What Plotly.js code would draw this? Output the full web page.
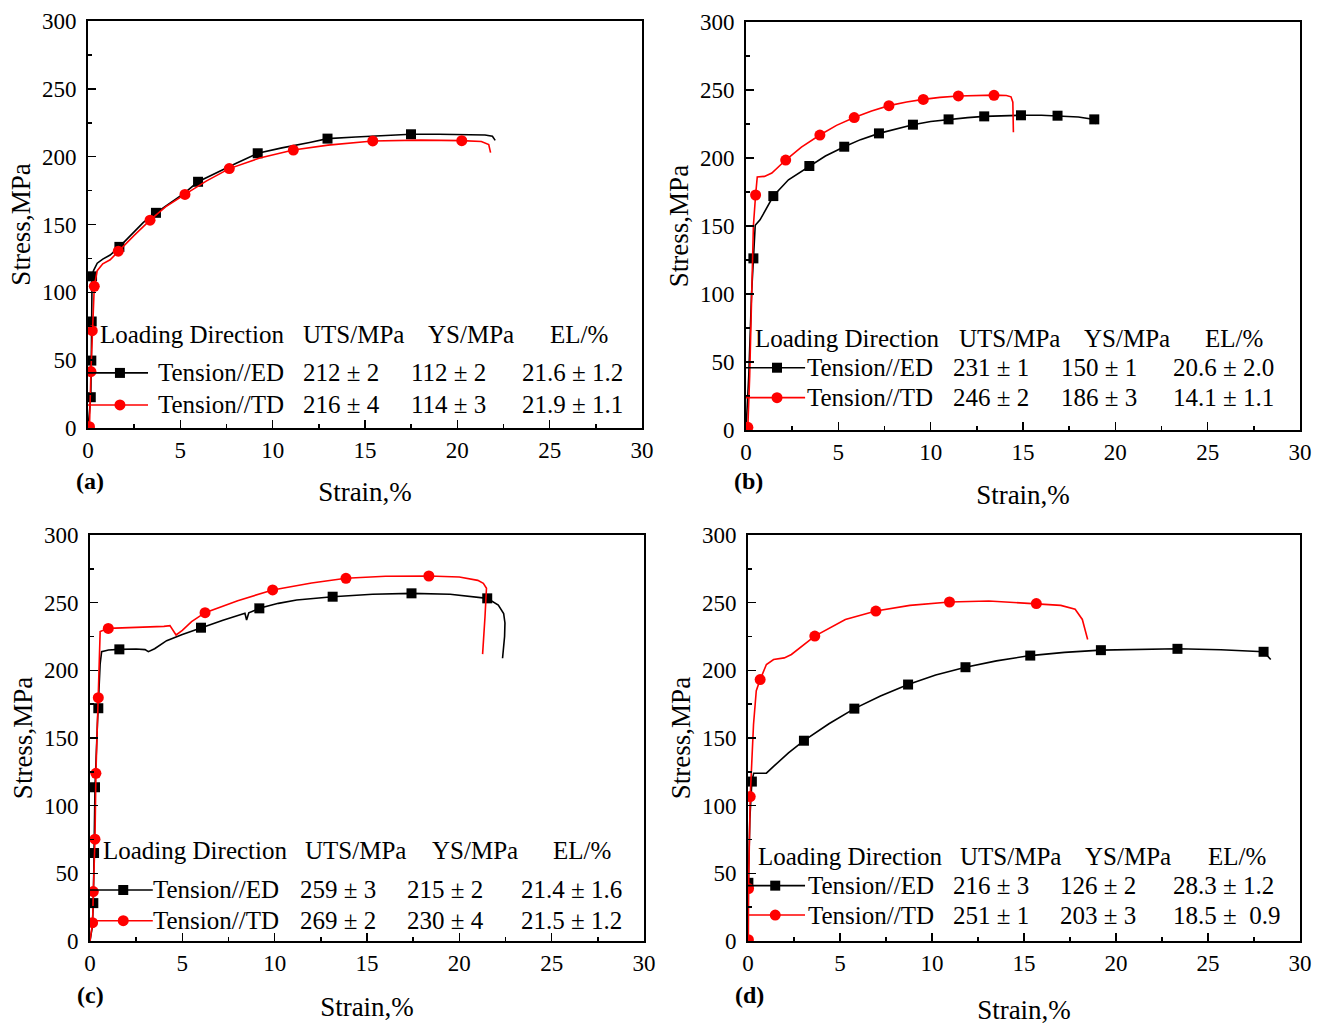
<!DOCTYPE html>
<html>
<head>
<meta charset="utf-8">
<script src="https://cdn.plot.ly/plotly-3.0.1.min.js"></script>
<style>html,body{margin:0;padding:0;background:#fff;}#chart{width:1328px;height:1028px;}</style>
</head>
<body>
<div id="chart"></div>
<script>
// ---------------- DATA ----------------
// Panel (a)
const aEdX = [0, 0.15, 0.18, 0.2, 0.22, 0.3, 0.5, 0.8, 1.2, 1.7, 2.5, 3.0, 3.68, 4.5, 5.2, 5.96, 7.0, 8.0, 9.19, 10.5, 12.0, 12.97, 14.5, 16.0, 17.49, 19.0, 20.5, 21.5, 21.9, 22.05];
const aEdY = [0, 22.7, 49.7, 78.5, 111.8, 116, 121.5, 124.5, 127.5, 133.5, 145, 151.5, 158.6, 166.5, 173, 181.5, 188.5, 195, 202.5, 206.5, 210.5, 213.3, 214.5, 215.5, 216.5, 216.5, 216.3, 216, 215, 212];
const aEdMX = [0.15, 0.18, 0.2, 0.22, 1.7, 3.68, 5.96, 9.19, 12.97, 17.49];
const aEdMY = [22.7, 49.7, 78.5, 111.8, 133.5, 158.6, 181.5, 202.5, 213.3, 216.5];
const aTdX = [0, 0.08, 0.16, 0.23, 0.3, 0.34, 0.5, 0.8, 1.2, 1.64, 2.5, 3.36, 4.2, 5.25, 6.4, 7.65, 9.3, 11.12, 13.0, 15.42, 18.0, 20.24, 21.3, 21.7, 21.8];
const aTdY = [0, 1, 41.6, 71.7, 95, 104.4, 116, 121, 124, 130.3, 142, 153.2, 163, 172.2, 182, 191.2, 199, 204.9, 208.5, 211.6, 212.2, 211.8, 211.2, 209, 203];
const aTdMX = [0.08, 0.16, 0.23, 0.34, 1.64, 3.36, 5.25, 7.65, 11.12, 15.42, 20.24];
const aTdMY = [1, 41.6, 71.7, 104.4, 130.3, 153.2, 172.2, 191.2, 204.9, 211.6, 211.8];

// Panel (b)
const bEdX = [0, 0.15, 0.3, 0.4, 0.5, 0.76, 1.1, 1.48, 2.3, 3.43, 4.3, 5.32, 6.2, 7.2, 8.1, 9.04, 10.0, 10.97, 12.0, 12.9, 14.0, 14.89, 16.0, 16.87, 18.0, 18.86, 18.95];
const bEdY = [0, 40, 100, 126.2, 150.5, 154.5, 163, 172, 184, 194.1, 201.5, 208.3, 213.5, 218.1, 221.5, 224.5, 226.8, 228.4, 229.7, 230.6, 231.2, 231.4, 231.4, 231.1, 230.2, 228.4, 225];
const bEdMX = [0.4, 1.48, 3.43, 5.32, 7.2, 9.04, 10.97, 12.9, 14.89, 16.87, 18.86];
const bEdMY = [126.2, 172, 194.1, 208.3, 218.1, 224.5, 228.4, 230.6, 231.4, 231.1, 228.4];
const bTdX = [0, 0.1, 0.2, 0.3, 0.4, 0.52, 0.61, 1.0, 1.4, 2.15, 3.0, 4.0, 4.9, 5.86, 6.8, 7.74, 8.7, 9.6, 10.5, 11.5, 12.5, 13.43, 14.1, 14.35, 14.45, 14.47, 14.48];
const bTdY = [0, 2, 40, 105, 150, 172.8, 186, 186.5, 189, 198.5, 208, 216.9, 224, 229.7, 234.5, 238.5, 241.2, 243.1, 244.6, 245.6, 246.1, 246.2, 246, 245, 241, 230, 219];
const bTdMX = [0.1, 0.52, 2.15, 4.0, 5.86, 7.74, 9.6, 11.5, 13.43];
const bTdMY = [2, 172.8, 198.5, 216.9, 229.7, 238.5, 243.1, 245.6, 246.1];

// Panel (c)
const cEdX = [0, 0.12, 0.18, 0.22, 0.27, 0.4, 0.45, 0.55, 0.63, 1.0, 1.59, 2.5, 2.98, 3.16, 3.5, 4.15, 5.0, 6.01, 7.2, 8.39, 8.48, 8.6, 9.17, 10.2, 11.19, 13.14, 15.3, 17.41, 19.5, 21.51, 22.11, 22.4, 22.47, 22.45, 22.34];
const cEdY = [0, 10, 28, 65, 113.6, 160, 172, 205, 213.8, 215, 215.5, 215.8, 215.3, 213.8, 216, 221.9, 226.5, 231.5, 237, 242.1, 237.2, 242.5, 245.8, 249.5, 252, 254.4, 256.2, 256.9, 256.2, 253.2, 248.3, 242, 235, 225, 208.9];
const cEdMX = [0.18, 0.22, 0.27, 0.45, 1.59, 6.01, 9.17, 13.14, 17.41, 21.51];
const cEdMY = [28, 65, 113.6, 172, 215.5, 231.5, 245.8, 254.4, 256.9, 253.2];
const cTdX = [0, 0.14, 0.18, 0.27, 0.32, 0.45, 0.5, 0.55, 0.99, 2.5, 4.0, 4.33, 4.66, 5.0, 5.5, 6.23, 8.0, 9.89, 12.0, 13.86, 16.0, 18.35, 20.0, 21.0, 21.3, 21.47, 21.45, 21.39, 21.26];
const cTdY = [0, 13.5, 36.5, 75.2, 123.9, 179.8, 215, 228.6, 231, 231.5, 232.5, 233, 226.1, 229.5, 236, 242.6, 251.5, 259.4, 264.5, 268, 269.5, 269.7, 269, 266.5, 264.3, 260.6, 250, 239.6, 212];
const cTdMX = [0.14, 0.18, 0.27, 0.32, 0.45, 0.99, 6.23, 9.89, 13.86, 18.35];
const cTdMY = [13.5, 36.5, 75.2, 123.9, 179.8, 231, 242.6, 259.4, 268, 269.7];

// Panel (d)
const dEdX = [0, 0.02, 0.1, 0.21, 0.31, 1.0, 1.39, 2.2, 3.04, 4.4, 5.78, 7.2, 8.7, 10.2, 11.82, 13.5, 15.34, 17.2, 19.18, 21.2, 23.34, 25.7, 28.02, 28.41];
const dEdY = [0, 43, 90, 117.8, 124, 124, 129, 139, 148, 160.5, 171.7, 181, 189.5, 196.5, 202.3, 207, 210.9, 213.3, 214.9, 215.6, 215.9, 215.2, 213.7, 208];
const dEdMX = [0.02, 0.21, 3.04, 5.78, 8.7, 11.82, 15.34, 19.18, 23.34, 28.02];
const dEdMY = [43, 117.8, 148, 171.7, 189.5, 202.3, 210.9, 214.9, 215.9, 213.7];
const dTdX = [0, 0.02, 0.03, 0.12, 0.3, 0.45, 0.66, 1.0, 1.39, 1.97, 2.36, 3.63, 5.29, 6.95, 8.8, 10.95, 13.09, 15.67, 17.0, 17.78, 18.17, 18.46];
const dTdY = [0, 1, 38.8, 106.7, 160, 185, 193.2, 204.3, 208, 209.2, 211.7, 225.3, 237.6, 243.8, 248, 250.5, 251.2, 249.3, 248, 245.1, 237.6, 222.8];
const dTdMX = [0.02, 0.03, 0.12, 0.66, 3.63, 6.95, 10.95, 15.67];
const dTdMY = [1, 38.8, 106.7, 193.2, 225.3, 243.8, 250.5, 249.3];

// Texts
const panelLabels = ['(a)', '(b)', '(c)', '(d)'];
const tableHeaders = ['Loading Direction', 'UTS/MPa', 'YS/MPa', 'EL/%'];
const seriesNames = ['Tension//ED', 'Tension//TD'];
const aStats = [['212 ± 2', '112 ± 2', '21.6 ± 1.2'], ['216 ± 4', '114 ± 3', '21.9 ± 1.1']];
const bStats = [['231 ± 1', '150 ± 1', '20.6 ± 2.0'], ['246 ± 2', '186 ± 3', '14.1 ± 1.1']];
const cStats = [['259 ± 3', '215 ± 2', '21.4 ± 1.6'], ['269 ± 2', '230 ± 4', '21.5 ± 1.2']];
const dStats = [['216 ± 3', '126 ± 2', '28.3 ± 1.2'], ['251 ± 1', '203 ± 3', '18.5 ±\u00a0 0.9']];
const xTitle = 'Strain,%';
const yTitle = 'Stress,MPa';

// ---------------- LAYOUT / DRAW ----------------
const FONT = '"Liberation Serif", "Times New Roman", serif';
const W = 1328, H = 1028;
const BLACK = '#000000', RED = '#ff0000';

const panels = [
  { ax: '', ed: [aEdX, aEdY, aEdMX, aEdMY], td: [aTdX, aTdY, aTdMX, aTdMY], stats: aStats,
    px: [88, 642], py: [428, 21], hdrY: 68.7, rowY: [40.6, 17.0],
    colX: [0.55, 11.55, 18.3, 24.9], rowX: [3.67, 11.52, 17.37, 23.41], legLine: 3.25, legMk: 1.73,
    lab: [90, 481], xst: 20 },
  { ax: '2', ed: [bEdX, bEdY, bEdMX, bEdMY], td: [bTdX, bTdY, bTdMX, bTdMY], stats: bStats,
    px: [746, 1300], py: [430, 22], hdrY: 67.4, rowY: [45.8, 23.8],
    colX: [0.37, 11.44, 18.22, 24.76], rowX: [3.22, 11.1, 16.95, 23.0], legLine: 3.2, legMk: 1.68,
    lab: [748, 481], xst: 21 },
  { ax: '3', ed: [cEdX, cEdY, cEdMX, cEdMY], td: [cTdX, cTdY, cTdMX, cTdMY], stats: cStats,
    px: [90, 644], py: [941, 535], hdrY: 67.2, rowY: [37.7, 15.0],
    colX: [0.57, 11.56, 18.39, 24.94], rowX: [3.33, 11.26, 17.06, 23.22], legLine: 3.4, legMk: 1.8,
    lab: [90, 995], xst: 22 },
  { ax: '4', ed: [dEdX, dEdY, dEdMX, dEdMY], td: [dTdX, dTdY, dTdMX, dTdMY], stats: dStats,
    px: [748, 1300], py: [941, 535], hdrY: 62.3, rowY: [40.9, 19.2],
    colX: [0.42, 11.42, 18.23, 24.88], rowX: [3.16, 11.03, 16.85, 23.0], legLine: 3.1, legMk: 1.48,
    lab: [749, 995], xst: 25 }
];

const traces = [];
const annotations = [];
const shapes = [];
const layout = {
  width: W, height: H,
  margin: { l: 0, r: 0, t: 0, b: 0 },
  paper_bgcolor: '#ffffff', plot_bgcolor: '#ffffff',
  showlegend: false,
  font: { family: FONT, color: BLACK }
};

panels.forEach((p, i) => {
  const xa = 'x' + p.ax, ya = 'y' + p.ax;
  const xKey = 'xaxis' + p.ax, yKey = 'yaxis' + p.ax;
  layout[xKey] = {
    domain: [p.px[0] / W, p.px[1] / W], anchor: ya,
    range: [0, 30], tick0: 0, dtick: 5,
    ticks: 'inside', ticklen: 8, tickwidth: 1.5, tickcolor: BLACK,
    minor: { dtick: 2.5, ticks: 'inside', ticklen: 4, tickwidth: 1.5, tickcolor: BLACK },
    showline: true, linecolor: BLACK, linewidth: 1.8, mirror: true,
    showgrid: false, zeroline: false, fixedrange: true,
    tickfont: { family: FONT, size: 23, color: BLACK },
    ticklabelstandoff: 1,
    title: { text: xTitle, font: { family: FONT, size: 27, color: BLACK }, standoff: p.xst }
  };
  layout[yKey] = {
    domain: [1 - p.py[0] / H, 1 - p.py[1] / H], anchor: xa,
    range: [0, 300], tick0: 0, dtick: 50,
    ticks: 'inside', ticklen: 8, tickwidth: 1.5, tickcolor: BLACK,
    minor: { dtick: 25, ticks: 'inside', ticklen: 4, tickwidth: 1.5, tickcolor: BLACK },
    showline: true, linecolor: BLACK, linewidth: 1.8, mirror: true,
    showgrid: false, zeroline: false, fixedrange: true,
    tickfont: { family: FONT, size: 23, color: BLACK },
    ticklabelstandoff: 5,
    title: { text: yTitle, font: { family: FONT, size: 27, color: BLACK }, standoff: 4 }
  };

  const series = [[p.ed, BLACK, 'square', 10, seriesNames[0]], [p.td, RED, 'circle', 11, seriesNames[1]]];
  series.forEach(([d, col, sym, sz, nm], k) => {
    traces.push({ x: d[0], y: d[1], xaxis: xa, yaxis: ya, type: 'scatter', mode: 'lines',
      line: { color: col, width: 1.6 }, name: nm, hoverinfo: 'skip' });
    traces.push({ x: d[2], y: d[3], xaxis: xa, yaxis: ya, type: 'scatter', mode: 'markers',
      marker: { color: col, symbol: sym, size: sz, line: { width: 0 } }, name: nm, hoverinfo: 'skip' });

    // legend sample line + marker
    const yy = p.rowY[k];
    shapes.push({ type: 'line', xref: xa, yref: ya, x0: 0, x1: p.legLine, y0: yy, y1: yy,
      line: { color: col, width: 1.6 } });
    const half = sym === 'square' ? 5 : 5.5;
    shapes.push({ type: sym === 'square' ? 'rect' : 'circle', xref: xa, yref: ya,
      xsizemode: 'pixel', ysizemode: 'pixel', xanchor: p.legMk, yanchor: yy,
      x0: -half, x1: half, y0: -half, y1: half, fillcolor: col, line: { width: 0 } });

    // row texts
    const rowTexts = [nm].concat(p.stats[k]);
    rowTexts.forEach((t, j) => {
      annotations.push({ xref: xa, yref: ya, x: p.rowX[j], y: yy, text: t, showarrow: false,
        xanchor: 'left', yanchor: 'middle', font: { family: FONT, size: 25, color: BLACK } });
    });
  });

  tableHeaders.forEach((t, j) => {
    annotations.push({ xref: xa, yref: ya, x: p.colX[j], y: p.hdrY, text: t, showarrow: false,
      xanchor: 'left', yanchor: 'middle', font: { family: FONT, size: 25, color: BLACK } });
  });

  annotations.push({ xref: 'paper', yref: 'paper', x: p.lab[0] / W, y: 1 - p.lab[1] / H,
    text: '<b>' + panelLabels[i] + '</b>', showarrow: false, xanchor: 'center', yanchor: 'middle',
    font: { family: FONT, size: 24, color: BLACK } });
});

layout.annotations = annotations;
layout.shapes = shapes;

Plotly.newPlot('chart', traces, layout, { displayModeBar: false, staticPlot: true });
</script>
</body>
</html>
